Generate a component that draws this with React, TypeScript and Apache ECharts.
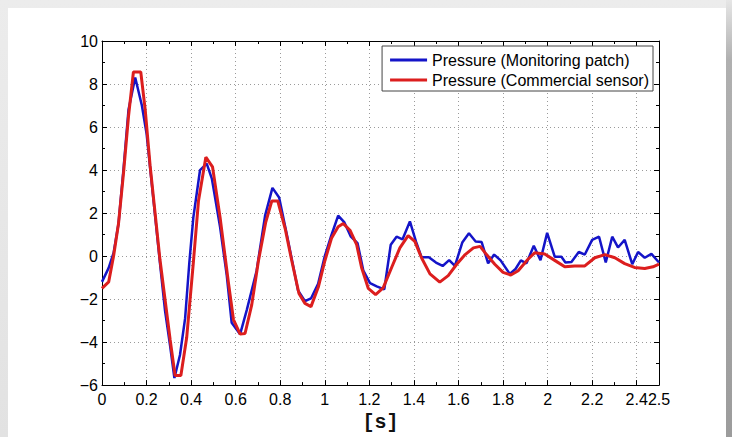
import React, { useEffect, useRef } from "react";
import * as echarts from "echarts";

const seriesNames = ["Pressure (Monitoring patch)", "Pressure (Commercial sensor)"];
const xAxisName = "[s]";

// Pressure (Monitoring patch): [time s, value]
const monitoringPatch: [number, number][] = [
  [0, -1.2], [0.03, -0.55], [0.052, 0.15], [0.074, 1.5], [0.097, 4.1], [0.119, 6.8],
  [0.149, 8.3], [0.179, 7.0], [0.2, 5.7], [0.23, 2.7], [0.26, -0.3], [0.283, -2.55],
  [0.306, -4.2], [0.325, -5.67], [0.35, -4.6], [0.373, -2.9], [0.392, -0.3], [0.41, 1.8],
  [0.44, 4.0], [0.47, 4.3], [0.493, 3.6], [0.53, 1.35], [0.56, -0.9], [0.582, -3.1],
  [0.62, -3.63], [0.65, -2.5], [0.694, -0.68], [0.732, 1.88], [0.765, 3.17], [0.795, 2.72],
  [0.83, 0.98], [0.88, -1.6], [0.911, -2.1], [0.938, -1.97], [0.97, -1.29], [1.0, 0.0],
  [1.03, 0.98], [1.06, 1.88], [1.087, 1.58], [1.117, 0.9], [1.147, 0.6], [1.173, -0.68],
  [1.203, -1.26], [1.233, -1.41], [1.267, -1.55], [1.296, 0.53], [1.322, 0.9], [1.349, 0.78],
  [1.382, 1.61], [1.409, 0.68], [1.434, -0.05], [1.467, -0.05], [1.499, -0.3], [1.529, -0.46],
  [1.558, -0.19], [1.584, -0.46], [1.617, 0.63], [1.647, 1.06], [1.677, 0.68], [1.704, 0.65],
  [1.733, -0.34], [1.76, 0.07], [1.789, -0.2], [1.83, -0.83], [1.856, -0.6], [1.88, -0.2],
  [1.905, -0.34], [1.938, 0.48], [1.968, -0.19], [1.998, 1.08], [2.032, -0.03], [2.062, -0.03],
  [2.08, -0.3], [2.107, -0.28], [2.14, 0.19], [2.167, 0.07], [2.2, 0.75], [2.231, 0.9],
  [2.261, -0.3], [2.29, 0.9], [2.316, 0.4], [2.346, 0.75], [2.38, -0.38], [2.406, 0.19],
  [2.436, -0.08], [2.466, 0.1], [2.5, -0.3],
];

// Pressure (Commercial sensor): [time s, value]
const commercialSensor: [number, number][] = [
  [0, -1.5], [0.03, -1.2], [0.052, 0.0], [0.074, 1.5], [0.097, 3.9], [0.119, 6.5],
  [0.141, 8.56], [0.174, 8.56], [0.194, 6.8], [0.216, 4.2], [0.26, -0.15], [0.306, -3.9],
  [0.328, -5.55], [0.354, -5.55], [0.38, -3.8], [0.41, -0.3], [0.433, 2.56], [0.466, 4.6],
  [0.496, 4.15], [0.53, 1.8], [0.567, -1.2], [0.59, -2.95], [0.62, -3.63], [0.642, -3.6],
  [0.672, -2.27], [0.702, -0.23], [0.735, 1.58], [0.762, 2.56], [0.789, 2.56], [0.822, 1.28],
  [0.852, -0.23], [0.884, -1.74], [0.911, -2.2], [0.938, -2.35], [0.971, -1.44], [1.0, -0.23],
  [1.03, 0.83], [1.06, 1.36], [1.083, 1.51], [1.113, 1.2], [1.143, 0.53], [1.165, -0.53],
  [1.195, -1.5], [1.228, -1.79], [1.262, -1.48], [1.3, -0.53], [1.337, 0.38], [1.374, 0.95],
  [1.404, 0.68], [1.434, -0.08], [1.472, -0.83], [1.516, -1.21], [1.554, -0.91], [1.592, -0.38],
  [1.63, 0.07], [1.667, 0.38], [1.697, 0.45], [1.726, 0.07], [1.763, -0.38], [1.8, -0.76],
  [1.835, -0.88], [1.868, -0.68], [1.912, -0.15], [1.942, 0.15], [1.987, 0.1], [2.032, -0.2],
  [2.077, -0.5], [2.122, -0.46], [2.167, -0.46], [2.212, -0.08], [2.257, 0.07], [2.302, -0.08],
  [2.346, -0.35], [2.39, -0.53], [2.436, -0.58], [2.473, -0.5], [2.5, -0.38],
];

const xMin = 0, xMax = 2.5, xStep = 0.2;
const yMin = -6, yMax = 10, yStep = 2;

const FONT = "'Liberation Sans', Arial, Helvetica, sans-serif";

export default function App() {
  const ref = useRef<HTMLDivElement>(null);

  useEffect(() => {
    document.body.style.margin = "0";
    const chart = echarts.init(ref.current!, null, { renderer: "svg" });
    const fmtY = (v: number) => (v < 0 ? "\u2212" + Math.abs(v) : String(v));
    const fmtX = (v: number) => String(Math.round(v * 10) / 10);

    const common = {
      type: "value" as const,
      axisLine: { show: true, onZero: false, lineStyle: { color: "#000", width: 1 } },
      axisTick: { show: true, inside: true, length: 5, lineStyle: { color: "#000" } },
      minorTick: { show: true, splitNumber: 2, length: 3, lineStyle: { color: "#000" } },
    };

    chart.setOption({
      animation: false,
      backgroundColor: "transparent",
      grid: { left: 102, right: 73, top: 41, bottom: 43, containLabel: false },
      legend: {
        data: seriesNames,
        orient: "vertical",
        right: 79,
        top: 46,
        icon: "rect",
        itemWidth: 37,
        itemHeight: 3,
        itemGap: 0,
        padding: [4, 4, 1, 8],
        borderColor: "#444",
        borderWidth: 1,
        backgroundColor: "#fff",
        textStyle: { fontSize: 16, fontFamily: FONT, color: "#000", lineHeight: 20 },
      },
      xAxis: [
        {
          ...common,
          min: xMin,
          max: xMax,
          interval: xStep,
          position: "bottom",
          name: xAxisName,
          nameLocation: "middle",
          nameGap: 19,
          nameTextStyle: {
            fontFamily: "'Liberation Mono', 'Courier New', monospace",
            fontSize: 20,
            fontWeight: "bold",
            color: "#111",
            verticalAlign: "top",
          },
          axisLabel: { fontSize: 16, fontFamily: FONT, color: "#000", margin: 6, formatter: fmtX, hideOverlap: false },
          splitLine: { show: true, lineStyle: { color: "#9a9a9a", type: [1, 3], width: 1 } },
        },
        {
          ...common,
          min: xMin,
          max: xMax,
          interval: xStep,
          position: "top",
          axisLabel: { show: false },
          splitLine: { show: false },
        },
      ],
      yAxis: [
        {
          ...common,
          min: yMin,
          max: yMax,
          interval: yStep,
          position: "left",
          axisLabel: { fontSize: 16, fontFamily: FONT, color: "#000", margin: 4, formatter: fmtY },
          splitLine: { show: true, lineStyle: { color: "#9a9a9a", type: [1, 3], width: 1 } },
        },
        {
          ...common,
          min: yMin,
          max: yMax,
          interval: yStep,
          position: "right",
          axisLabel: { show: false },
          splitLine: { show: false },
        },
      ],
      series: [
        {
          name: seriesNames[0],
          type: "line",
          data: monitoringPatch,
          showSymbol: false,
          color: "#1414c8",
          lineStyle: { width: 2.5, color: "#1414c8" },
          z: 3,
        },
        {
          name: seriesNames[1],
          type: "line",
          data: commercialSensor,
          showSymbol: false,
          color: "#dc1e1e",
          lineStyle: { width: 3, color: "#dc1e1e" },
          z: 4,
        },
      ],
    });
    return () => chart.dispose();
  }, []);

  return (
    <div
      style={{
        position: "fixed",
        left: 0,
        top: 0,
        width: 732,
        height: 437,
        background: "linear-gradient(to bottom, #ececec, #e2e2e2)",
      }}
    >
      <div style={{ position: "absolute", left: 8, top: 8, width: 718, height: 429, background: "#fff" }} />
      <div
        style={{
          position: "absolute",
          left: 726,
          top: 0,
          width: 6,
          height: 437,
          background: "linear-gradient(to bottom, #e6e6e6 0px, #b0b0b0 60px, #9c9c9c 437px)",
        }}
      />
      <div ref={ref} style={{ position: "absolute", left: 0, top: 0, width: 732, height: 437 }} />
    </div>
  );
}
